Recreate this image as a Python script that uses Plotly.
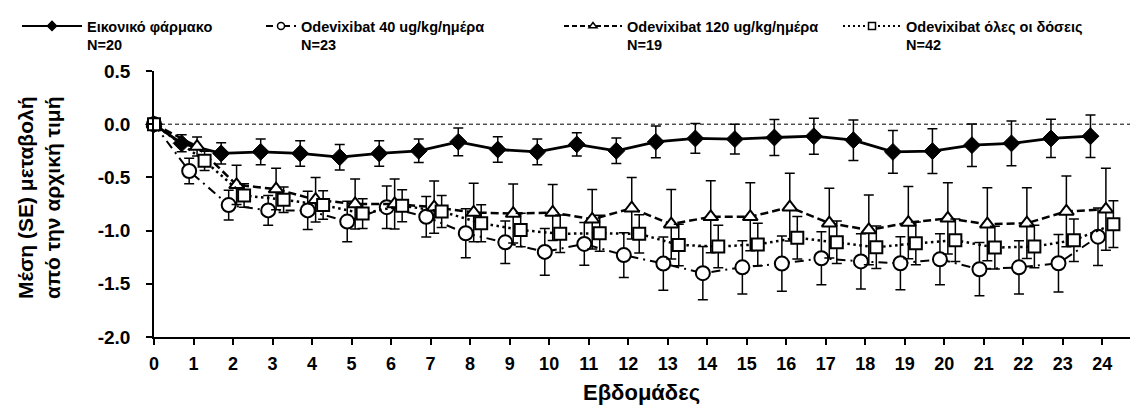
import plotly.graph_objects as go

weeks = list(range(0, 25))
x_tick_labels = [str(w) for w in weeks]
y_tick_vals = [0.5, 0.0, -0.5, -1.0, -1.5, -2.0]
y_tick_labels = ["0.5", "0.0", "-0.5", "-1.0", "-1.5", "-2.0"]

placebo_mean = [0, -0.18, -0.275, -0.26, -0.275, -0.31, -0.275, -0.25, -0.166, -0.238, -0.26,
                -0.19, -0.25, -0.166, -0.134, -0.14, -0.125, -0.113, -0.15, -0.26, -0.253,
                -0.197, -0.18, -0.134, -0.113]
placebo_se = [0, 0.08, 0.10, 0.12, 0.12, 0.12, 0.12, 0.11, 0.13, 0.12, 0.12, 0.11, 0.12,
              0.15, 0.14, 0.14, 0.17, 0.17, 0.19, 0.20, 0.21, 0.20, 0.21, 0.18, 0.20]

od40_mean = [0, -0.44, -0.76, -0.81, -0.81, -0.915, -0.78, -0.87, -1.025, -1.11, -1.20,
             -1.125, -1.23, -1.31, -1.40, -1.345, -1.31, -1.26, -1.29, -1.307, -1.27,
             -1.363, -1.345, -1.307, -1.057]
od40_se = [0, 0.12, 0.14, 0.14, 0.18, 0.19, 0.20, 0.19, 0.23, 0.20, 0.22, 0.20, 0.21,
           0.25, 0.25, 0.25, 0.26, 0.25, 0.26, 0.25, 0.24, 0.25, 0.25, 0.27, 0.27]

od120_mean = [0, -0.21, -0.57, -0.61, -0.71, -0.75, -0.75, -0.78, -0.83, -0.84, -0.83,
              -0.894, -0.79, -0.94, -0.87, -0.87, -0.78, -0.93, -0.994, -0.925, -0.885,
              -0.94, -0.93, -0.82, -0.80]
od120_se = [0, 0.09, 0.185, 0.195, 0.21, 0.234, 0.235, 0.245, 0.274, 0.277, 0.264, 0.28,
            0.29, 0.327, 0.338, 0.32, 0.318, 0.328, 0.328, 0.34, 0.335, 0.343, 0.333,
            0.332, 0.385]

odall_mean = [0, -0.344, -0.67, -0.71, -0.76, -0.84, -0.766, -0.82, -0.93, -0.994, -1.03,
              -1.025, -1.03, -1.135, -1.15, -1.13, -1.067, -1.11, -1.157, -1.12, -1.09,
              -1.16, -1.15, -1.09, -0.94]
odall_se = [0, 0.09, 0.11, 0.12, 0.134, 0.14, 0.15, 0.15, 0.174, 0.157, 0.177, 0.17, 0.18,
            0.195, 0.20, 0.20, 0.20, 0.20, 0.20, 0.20, 0.20, 0.20, 0.20, 0.20, 0.22]

series_names = ["Εικονικό φάρμακο<br>N=20",
                "Odevixibat 40 ug/kg/ημέρα<br>N=23",
                "Odevixibat 120 ug/kg/ημέρα<br>N=19",
                "Odevixibat όλες οι δόσεις<br>N=42"]

FONT = "Liberation Sans, Arial, sans-serif"


def shifted(offset):
    return [w if w == 0 else w + offset for w in weeks]


fig = go.Figure()

specs = [
    (placebo_mean, placebo_se, -0.30,
     dict(color="black", width=2.8), dict(color="black", width=2),
     dict(symbol="diamond", size=13, color="black", line=dict(color="black", width=1)), 7,
     "legend"),
    (od40_mean, od40_se, -0.11,
     dict(color="black", width=2, dash="9px,5px,2px,5px"),
     dict(color="black", width=2, dash="7px,4px,2px,4px"),
     dict(symbol="circle", size=14, color="white", line=dict(color="black", width=2)), 7,
     "legend2"),
    (od120_mean, od120_se, 0.09,
     dict(color="black", width=2.5, dash="8px,4px"),
     dict(color="black", width=2, dash="5px,3px"),
     dict(symbol="triangle-up", size=13, color="white", line=dict(color="black", width=2)), 7,
     "legend3"),
    (odall_mean, odall_se, 0.28,
     dict(color="black", width=2.5, dash="2.5px,3.5px"),
     dict(color="black", width=2, dash="2px,3px"),
     dict(symbol="square", size=12, color="white", line=dict(color="black", width=2)), 7,
     "legend4"),
]

for (mean, se, off, line, lline, marker, lms, lg), name in zip(specs, series_names):
    fig.add_trace(go.Scatter(
        x=shifted(off), y=mean, mode="lines+markers", name=name, showlegend=False,
        line=line, marker=marker, cliponaxis=False,
        error_y=dict(type="data", array=se, visible=True, color="black",
                     thickness=1.5, width=5),
    ))
    lm = dict(marker)
    lm["size"] = lms
    lm["line"] = dict(color="black", width=1.5)
    fig.add_trace(go.Scatter(
        x=[None], y=[None], mode="lines+markers", name=name, showlegend=True,
        line=lline, marker=lm, legend=lg,
    ))

fig.add_shape(type="line", xref="paper", x0=0, x1=1, yref="y", y0=0, y1=0,
              line=dict(color="black", width=1, dash="4px,3px"), layer="below")

# page has an 8px body margin; target plot area on page: x 154..1130, y 71..337
OFF = 8
W, H = 1143 - OFF, 408 - OFF
L = 154 - OFF
T = 71 - OFF
R = 1143 - 1130
B = H - (337 - OFF)
pw = W - L - R
ph = H - T - B


def px_x(p):
    return (p - OFF - L) / pw


def px_y(p):
    return 1 + (T - (p - OFF)) / ph


leg_font = dict(family=FONT, size=14.5, color="black", weight="bold")
leg_common = dict(orientation="h", xanchor="left", yanchor="top", valign="top",
                  font=leg_font, bgcolor="rgba(0,0,0,0)", borderwidth=0,
                  tracegroupgap=0)
legend_x = [17, 261, 559, 838]
legend_w = [60, 30, 58, 58]
ly = px_y(10)

fig.update_layout(
    width=W, height=H,
    margin=dict(l=L, r=R, t=T, b=B, autoexpand=False),
    paper_bgcolor="white", plot_bgcolor="white",
    font=dict(family=FONT, color="black"),
    showlegend=True,
    legend=dict(x=px_x(legend_x[0]), y=ly, itemwidth=legend_w[0], **leg_common),
    legend2=dict(x=px_x(legend_x[1]), y=ly, itemwidth=legend_w[1], **leg_common),
    legend3=dict(x=px_x(legend_x[2]), y=ly, itemwidth=legend_w[2], **leg_common),
    legend4=dict(x=px_x(legend_x[3]), y=ly, itemwidth=legend_w[3], **leg_common),
    xaxis=dict(range=[0, 24.7], tickmode="array", tickvals=weeks, ticktext=x_tick_labels,
               ticks="outside", ticklen=6, tickwidth=1.5, tickcolor="black",
               showline=True, linewidth=1.5, linecolor="black", showgrid=False,
               zeroline=False, tickfont=dict(family=FONT, size=18, weight="bold"),
               ticklabelstandoff=4),
    yaxis=dict(range=[-2.0, 0.5], tickmode="array", tickvals=y_tick_vals, ticktext=y_tick_labels,
               ticks="outside", ticklen=6, tickwidth=1.5, tickcolor="black",
               showline=True, linewidth=1.5, linecolor="black", showgrid=False,
               zeroline=False, tickfont=dict(family=FONT, size=19, weight="bold"),
               ticklabelstandoff=12),
    annotations=[
        dict(text="Εβδομάδες", xref="paper", yref="paper", x=px_x(641), y=px_y(392),
             xanchor="center", yanchor="middle", showarrow=False,
             font=dict(family=FONT, size=22, weight="bold")),
        dict(text="Μέση (SE) μεταβολή<br>από την αρχική τιμή", xref="paper", yref="paper",
             x=px_x(39), y=px_y(198), xanchor="center", yanchor="middle", showarrow=False,
             textangle=-90, font=dict(family=FONT, size=21, weight="bold")),
    ],
)

fig.write_html("out.html")
